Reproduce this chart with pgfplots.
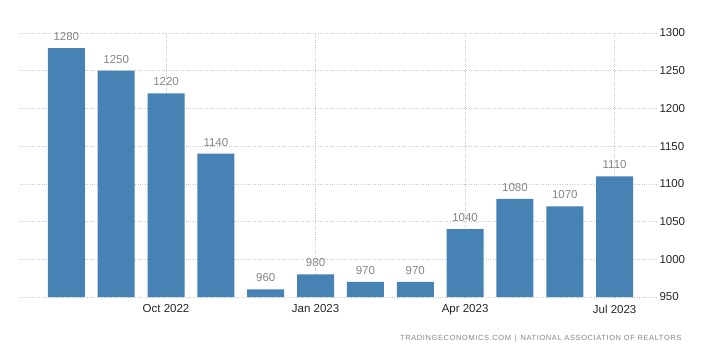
\documentclass[border=0pt]{standalone}
\usepackage{pgfplots}
\pgfplotsset{compat=1.18}
\usepackage{fontspec}
\setmainfont{Liberation Sans}
\newfontfamily\srcfont[LetterSpace=8]{Liberation Sans}
\definecolor{barblue}{HTML}{4682B4}
\definecolor{gridgray}{HTML}{C8C8C8}
\definecolor{lblgray}{HTML}{858585}
\begin{document}
\begin{tikzpicture}
\path[use as bounding box] (-20pt,-65pt) rectangle (696pt,297pt);
\begin{axis}[
  at={(0pt,0pt)}, anchor=south west,
  scale only axis, width=638pt, height=264pt,
  xmin=-0.93, xmax=11.87, ymin=950, ymax=1300,
  ytick={950,1000,...,1300},
  xtick={2,5,8,11},
  xticklabels={Oct 2022,Jan 2023,Apr 2023,Jul 2023},
  yticklabel pos=right,
  axis line style={draw=none},
  tick style={draw=none},
  grid=major,
  major grid style={gridgray, dotted, line width=0.6pt},
  ticklabel style={font=\fontsize{11.5}{13}\selectfont, color=black!85},
  yticklabel style={anchor=west, xshift=-2pt},
  xticklabel style={yshift=0pt},
  /pgf/number format/assume math mode=true,
  /pgf/number format/1000 sep={},
  ybar, bar width=37pt,
  nodes near coords,
  every node near coord/.append style={font=\fontsize{11.5}{13}\selectfont, color=lblgray, yshift=4pt},
  clip=false,
]
\addplot[fill=barblue, draw=none] coordinates {
(0,1280) (1,1250) (2,1220) (3,1140) (4,960) (5,980)
(6,970) (7,970) (8,1040) (9,1080) (10,1070) (11,1110)};
\end{axis}
\node[anchor=east, font=\srcfont\fontsize{7.5}{9}\selectfont, color=lblgray] at (665pt,-42pt) {TRADINGECONOMICS.COM\,\,\,|\,\,\,NATIONAL ASSOCIATION OF REALTORS};
\end{tikzpicture}
\end{document}
